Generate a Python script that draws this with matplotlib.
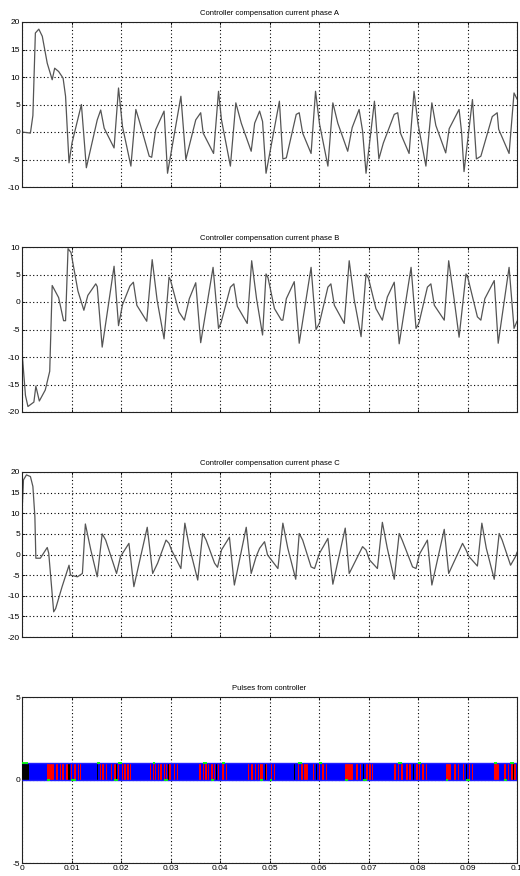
import matplotlib
matplotlib.use('Agg')
import matplotlib.pyplot as plt

plt.rcParams['font.family'] = ['Liberation Sans', 'DejaVu Sans']
plt.rcParams['axes.unicode_minus'] = False

# ---------------- data ----------------
titles = ['Controller compensation current phase A',
          'Controller compensation current phase B',
          'Controller compensation current phase C',
          'Pulses from controller']

t_a = [0.0000, 0.0017, 0.0022, 0.0027, 0.0034, 0.0041, 0.0051, 0.0061, 0.0066, 0.0074,
       0.0083, 0.0088, 0.0095, 0.0101, 0.0120, 0.0130, 0.0152, 0.0159, 0.0166, 0.0186,
       0.0195, 0.0203, 0.0220, 0.0230, 0.0237, 0.0257, 0.0262, 0.0270, 0.0287, 0.0294,
       0.0321, 0.0331, 0.0351, 0.0361, 0.0366, 0.0387, 0.0397, 0.0403, 0.0421, 0.0432,
       0.0443, 0.0463, 0.0470, 0.0480, 0.0486, 0.0493, 0.0520, 0.0527, 0.0534, 0.0554,
       0.0560, 0.0567, 0.0584, 0.0593, 0.0601, 0.0618, 0.0628, 0.0638, 0.0658, 0.0667,
       0.0681, 0.0688, 0.0695, 0.0712, 0.0721, 0.0730, 0.0752, 0.0759, 0.0765, 0.0782,
       0.0792, 0.0800, 0.0816, 0.0828, 0.0836, 0.0856, 0.0863, 0.0883, 0.0888, 0.0893,
       0.0910, 0.0918, 0.0927, 0.0950, 0.0960, 0.0963, 0.0984, 0.0994, 0.1000]
i_a = [0.0, -0.2, 3.0, 18.0, 18.7, 17.4, 12.5, 9.5, 11.6, 11.0,
       9.8, 6.5, -5.6, -2.0, 5.0, -6.5, 2.2, 4.0, 0.7, -2.9,
       8.0, 1.0, -6.2, 4.1, 2.0, -4.4, -4.6, 0.4, 3.8, -7.5,
       6.5, -5.0, 2.2, 3.5, -0.2, -3.9, 7.4, 2.2, -6.2, 5.3,
       1.6, -3.5, 1.6, 3.8, 1.9, -7.5, 5.6, -4.9, -4.7, 3.2,
       3.5, -0.2, -3.9, 7.4, 1.5, -6.2, 5.3, 1.6, -3.5, 0.8,
       4.1, 0.2, -7.5, 5.6, -4.9, -2.0, 3.2, 3.5, -0.3, -3.9,
       7.4, 1.5, -6.2, 5.3, 1.2, -3.8, 0.6, 4.1, 0.0, -7.2,
       5.9, -4.9, -4.4, 2.8, 3.5, 0.5, -3.9, 7.1, 6.0]

t_b = [0.0000, 0.0007, 0.0012, 0.0024, 0.0028, 0.0035, 0.0047, 0.0056, 0.0061, 0.0074,
       0.0084, 0.0088, 0.0093, 0.0099, 0.0113, 0.0125, 0.0133, 0.0149, 0.0152, 0.0162,
       0.0186, 0.0195, 0.0203, 0.0218, 0.0225, 0.0232, 0.0252, 0.0263, 0.0273, 0.0287,
       0.0297, 0.0300, 0.0317, 0.0328, 0.0338, 0.0351, 0.0361, 0.0386, 0.0397, 0.0402,
       0.0421, 0.0428, 0.0435, 0.0455, 0.0464, 0.0474, 0.0486, 0.0493, 0.0497, 0.0510,
       0.0524, 0.0527, 0.0534, 0.0550, 0.0560, 0.0584, 0.0594, 0.0601, 0.0618, 0.0624,
       0.0631, 0.0651, 0.0661, 0.0671, 0.0685, 0.0695, 0.0700, 0.0715, 0.0728, 0.0738,
       0.0752, 0.0762, 0.0786, 0.0796, 0.0802, 0.0819, 0.0826, 0.0833, 0.0853, 0.0862,
       0.0873, 0.0883, 0.0897, 0.0901, 0.0920, 0.0927, 0.0935, 0.0954, 0.0962, 0.0984,
       0.0994, 0.1000]
i_b = [-9.0, -17.0, -19.0, -18.2, -15.3, -18.0, -16.0, -12.6, 3.0, 0.8,
       -3.4, -3.4, 9.7, 9.0, 2.0, -1.5, 1.2, 3.3, 2.8, -8.2,
       6.5, -4.3, -0.5, 2.9, 3.6, -0.6, -3.5, 7.7, 0.3, -6.7,
       4.5, 4.0, -1.8, -3.3, 0.6, 3.5, -7.4, 6.3, -4.8, -3.8,
       2.7, 3.3, -0.8, -3.9, 7.5, 0.5, -6.0, 5.1, 4.4, -1.2,
       -3.3, -3.3, 0.6, 3.7, -7.5, 6.3, -5.0, -3.8, 2.7, 3.3,
       -0.6, -3.9, 7.5, 0.5, -6.3, 5.1, 4.3, -1.2, -3.3, 0.9,
       3.6, -7.6, 6.3, -4.8, -3.8, 2.7, 3.3, -0.6, -3.3, 7.5,
       0.5, -6.4, 5.1, 4.3, -2.7, -3.3, 0.6, 3.9, -7.5, 6.3,
       -4.8, -3.5]

t_c = [0.0000, 0.0003, 0.0009, 0.0017, 0.0022, 0.0026, 0.0028, 0.0037, 0.0051, 0.0054,
       0.0064, 0.0068, 0.0081, 0.0095, 0.0098, 0.0112, 0.0122, 0.0128, 0.0139, 0.0152,
       0.0162, 0.0169, 0.0191, 0.0199, 0.0216, 0.0226, 0.0253, 0.0264, 0.0274, 0.0291,
       0.0297, 0.0302, 0.0321, 0.0329, 0.0338, 0.0355, 0.0365, 0.0372, 0.0389, 0.0395,
       0.0403, 0.0419, 0.0429, 0.0453, 0.0463, 0.0473, 0.0480, 0.0490, 0.0496, 0.0517,
       0.0527, 0.0537, 0.0553, 0.0560, 0.0567, 0.0584, 0.0591, 0.0601, 0.0618, 0.0628,
       0.0653, 0.0661, 0.0671, 0.0688, 0.0695, 0.0702, 0.0718, 0.0728, 0.0738, 0.0752,
       0.0762, 0.0768, 0.0789, 0.0796, 0.0803, 0.0819, 0.0828, 0.0853, 0.0862, 0.0870,
       0.0890, 0.0897, 0.0903, 0.0920, 0.0929, 0.0938, 0.0954, 0.0964, 0.0970, 0.0987,
       0.0997, 0.1000]
i_c = [10.0, 18.1, 19.3, 18.9, 16.5, 9.2, -0.9, -0.9, 1.7, 0.3,
       -13.9, -13.1, -7.8, -2.6, -5.0, -5.4, -4.6, 7.4, 1.1, -5.4,
       5.0, 3.5, -4.6, -0.5, 2.7, -7.8, 6.6, -4.6, -2.1, 3.5,
       2.7, 1.1, -3.4, 7.6, 1.9, -6.2, 5.1, 3.5, -2.1, -3.1,
       1.1, 4.2, -7.4, 6.6, -4.6, -0.5, 1.5, 3.1, -0.1, -3.4,
       7.6, 1.5, -6.0, 5.1, 3.5, -3.0, -3.4, 0.3, 3.9, -7.2,
       6.4, -4.6, -2.2, 1.9, 1.1, -1.3, -3.4, 7.8, 1.5, -6.0,
       5.1, 3.5, -3.0, -3.4, 0.1, 3.5, -7.4, 6.1, -4.6, -2.5,
       2.7, 1.1, -0.5, -2.8, 7.6, 1.5, -6.0, 5.1, 3.5, -2.6,
       -0.5, 0.5]

# pulses: (start time, width)
red_pulses = [(0.0051, 0.0013), (0.0069, 0.0003), (0.0076, 0.0003), (0.0081, 0.0003),
              (0.0089, 0.0006), (0.0098, 0.0003), (0.0106, 0.0003), (0.0114, 0.0002),
              (0.0118, 0.0002),
              (0.0157, 0.0003), (0.0162, 0.0003), (0.0169, 0.0003), (0.0179, 0.0003),
              (0.0186, 0.0003), (0.0193, 0.0003), (0.0202, 0.0003), (0.0207, 0.0003),
              (0.0213, 0.0003), (0.0218, 0.0003),
              (0.0258, 0.0003), (0.0264, 0.0002), (0.0268, 0.0003), (0.0274, 0.0003),
              (0.0279, 0.0003), (0.0286, 0.0003), (0.0291, 0.0002), (0.0297, 0.0003),
              (0.0307, 0.0003), (0.0314, 0.0002),
              (0.0358, 0.0003), (0.0365, 0.0003), (0.0370, 0.0003), (0.0375, 0.0003),
              (0.0382, 0.0003), (0.0387, 0.0003), (0.0395, 0.0003), (0.0405, 0.0003),
              (0.0412, 0.0002),
              (0.0456, 0.0003), (0.0463, 0.0003), (0.0470, 0.0003), (0.0476, 0.0003),
              (0.0480, 0.0006), (0.0491, 0.0003), (0.0503, 0.0003), (0.0509, 0.0003),
              (0.0557, 0.0003), (0.0564, 0.0003), (0.0570, 0.0007), (0.0587, 0.0003),
              (0.0600, 0.0003), (0.0607, 0.0003), (0.0614, 0.0002),
              (0.0653, 0.0015), (0.0675, 0.0003), (0.0682, 0.0003), (0.0695, 0.0003),
              (0.0702, 0.0003), (0.0708, 0.0002),
              (0.0752, 0.0003), (0.0759, 0.0003), (0.0766, 0.0003), (0.0776, 0.0003),
              (0.0782, 0.0003), (0.0796, 0.0003), (0.0802, 0.0003), (0.0809, 0.0003),
              (0.0816, 0.0002),
              (0.0856, 0.0010), (0.0873, 0.0003), (0.0880, 0.0003), (0.0890, 0.0003),
              (0.0903, 0.0003), (0.0910, 0.0002),
              (0.0954, 0.0010), (0.0974, 0.0003), (0.0981, 0.0003), (0.0988, 0.0003),
              (0.0994, 0.0003)]
black_pulses = [(0.0000, 0.0014), (0.0093, 0.0003), (0.0152, 0.0002), (0.0189, 0.0002),
                (0.0199, 0.0002), (0.0294, 0.0002), (0.0392, 0.0002), (0.0490, 0.0002),
                (0.0550, 0.0002), (0.0594, 0.0002), (0.0688, 0.0002), (0.0789, 0.0002),
                (0.0897, 0.0002), (0.0991, 0.0002)]
green_top = [(0.0000, 0.0013), (0.0152, 0.0006), (0.0193, 0.0010), (0.0264, 0.0005),
             (0.0365, 0.0008), (0.0405, 0.0006), (0.0557, 0.0008), (0.0600, 0.0006),
             (0.0759, 0.0008), (0.0800, 0.0006), (0.0954, 0.0005), (0.0985, 0.0008)]
green_bottom = [(0.0051, 0.0006), (0.0098, 0.0012), (0.0186, 0.0008), (0.0286, 0.0008),
                (0.0382, 0.0006), (0.0480, 0.0006), (0.0500, 0.0005), (0.0653, 0.0005),
                (0.0688, 0.0008), (0.0856, 0.0005), (0.0897, 0.0008), (0.0974, 0.0005)]

xticks = [0, 0.01, 0.02, 0.03, 0.04, 0.05, 0.06, 0.07, 0.08, 0.09, 0.1]
xtick_labels = ['0', '0.01', '0.02', '0.03', '0.04', '0.05', '0.06', '0.07', '0.08', '0.09', '0.1']
yticks_a = [-10, -5, 0, 5, 10, 15, 20]
yticks_b = [-20, -15, -10, -5, 0, 5, 10]
yticks_c = [-20, -15, -10, -5, 0, 5, 10, 15, 20]
yticks_p = [-5, 0, 5]

# ---------------- figure ----------------
W, H = 520, 876
fig = plt.figure(figsize=(W / 100, H / 100), dpi=100)

def add_ax(top, bottom):
    return fig.add_axes([22 / W, 1 - bottom / H, 495 / W, (bottom - top) / H])

def style(ax, yticks, title, show_x):
    ax.set_xlim(0, 0.1)
    ax.set_ylim(yticks[0], yticks[-1])
    ax.set_xticks(xticks)
    ax.set_yticks(yticks)
    ax.set_yticklabels([str(v) for v in yticks])
    if show_x:
        ax.set_xticklabels(xtick_labels)
    else:
        ax.set_xticklabels([])
    ax.tick_params(direction='in', length=2.5, width=0.6, labelsize=6, pad=1.5,
                   top=True, right=True, colors='black')
    ax.grid(True, color='black', linestyle=(0, (1, 2.2)), linewidth=0.8)
    for s in ax.spines.values():
        s.set_linewidth(0.8)
        s.set_color('#222222')
    ax.set_title(title, fontsize=5.5, pad=5)

ax1 = add_ax(22, 187)
ax1.plot(t_a, i_a, color='#555555', lw=0.9)
style(ax1, yticks_a, titles[0], False)

ax2 = add_ax(247, 412)
ax2.plot(t_b, i_b, color='#555555', lw=0.9)
style(ax2, yticks_b, titles[1], False)

ax3 = add_ax(472, 637)
ax3.plot(t_c, i_c, color='#555555', lw=0.9)
style(ax3, yticks_c, titles[2], False)

ax4 = add_ax(697, 863)
ax4.broken_barh([(0, 0.1)], (0, 1), facecolor='#0000ff', edgecolor='none', zorder=3)
ax4.broken_barh(red_pulses, (0, 1), facecolor='#ff0000', edgecolor='none', zorder=4)
ax4.broken_barh(black_pulses, (0, 1), facecolor='#000000', edgecolor='none', zorder=5)
ax4.hlines([0, 1], 0, 0.1, colors='#2020ff', lw=1.0, zorder=5)
for s, w in green_top:
    ax4.hlines(1, s, s + w, colors='#00ff00', lw=1.3, zorder=6)
for s, w in green_bottom:
    ax4.hlines(0, s, s + w, colors='#00ff00', lw=1.3, zorder=6)
style(ax4, yticks_p, titles[3], True)

fig.savefig('out.png', dpi=100)
